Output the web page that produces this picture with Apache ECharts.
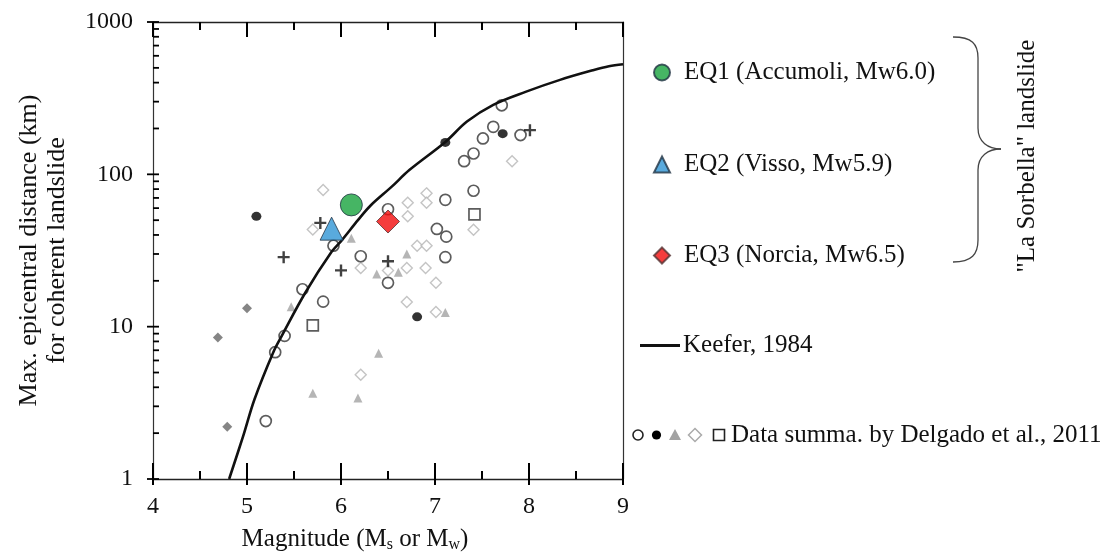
<!DOCTYPE html>
<html>
<head>
<meta charset="utf-8">
<script src="https://cdn.jsdelivr.net/npm/echarts@6/dist/echarts.min.js"></script>
<style>
  html, body { margin: 0; padding: 0; background: #fff; }
  #chart { width: 1107px; height: 554px; }
</style>
</head>
<body>
<div id="chart"></div>
<script>
// Magnitude vs. maximum epicentral distance for coherent landslides
const FONT = '"Liberation Serif", "Times New Roman", serif';

// axis ranges and frame ticks
const magRange = [4, 9];
const distRange = [1, 1000];
const magTicks = [4, 4.5, 5, 5.5, 6, 6.5, 7, 7.5, 8, 8.5, 9];
const distTicks = [1, 2, 3, 4, 5, 6, 7, 8, 9, 10, 20, 30, 40, 50, 60, 70, 80, 90,
                   100, 200, 300, 400, 500, 600, 700, 800, 900, 1000];

// Keefer (1984) upper-bound curve: [magnitude, distance km]
const keeferCurve = [
  [4.81, 1.0], [4.96, 1.92], [5.08, 3.34], [5.28, 6.8], [5.37, 8.7],
  [5.62, 16.7], [5.90, 31], [6.01, 37], [6.18, 50], [6.31, 62],
  [6.54, 83], [6.73, 107], [7.11, 163], [7.34, 222], [7.62, 286],
  [7.97, 349], [8.33, 417], [8.69, 484], [8.85, 512], [9.0, 528]
];

// "La Sorbella" landslide events
const eq1 = [[6.11, 63]];
const eq2 = [[5.90, 44]];
const eq3 = [[6.50, 49]];

// Data summarised by Delgado et al., 2011
const openCircles = [
  [5.20, 2.4], [5.30, 6.8], [5.40, 8.7], [5.59, 17.6], [5.81, 14.6],
  [5.92, 34], [6.21, 29], [6.50, 19.4], [6.50, 59], [7.02, 43.8],
  [7.12, 39], [7.11, 28.6], [7.11, 68], [7.31, 122], [7.41, 137],
  [7.41, 78], [7.51, 172], [7.62, 205], [7.71, 284], [7.91, 181]
];
const blackDots = [[5.10, 53], [6.81, 11.6], [7.11, 162], [7.72, 185]];
const greyTriangles = [
  [5.47, 13.5], [5.70, 3.66], [6.11, 38], [6.18, 3.4], [6.38, 22.2],
  [6.40, 6.7], [6.61, 22.8], [6.70, 30], [7.11, 12.4]
];
const openDiamonds = [
  [5.70, 43.5], [5.81, 79], [6.21, 24.3], [6.21, 4.83], [6.50, 23.4],
  [6.71, 65], [6.71, 53], [6.70, 24.3], [6.70, 14.5], [6.81, 34],
  [6.91, 75], [6.91, 65], [6.91, 34], [6.90, 24.3], [7.01, 19.4],
  [7.01, 12.5], [7.41, 43.3], [7.82, 122]
];
const openSquares = [[5.70, 10.2], [7.42, 54.6]];
const crosses = [[5.39, 28.6], [5.78, 48], [6.00, 23.4], [6.50, 26.9], [8.01, 195]];
const darkDiamonds = [[4.69, 8.5], [4.79, 2.2], [5.00, 13.2]];

const CROSS = 'path://M0,4 L4,4 L4,0 L6,0 L6,4 L10,4 L10,6 L6,6 L6,10 L4,10 L4,6 L0,6 Z';
const INK = '#111';

const chart = echarts.init(document.getElementById('chart'));

function isWhole(v) { return Math.abs(v - Math.round(v)) < 1e-6; }

// bottom edge: whole magnitudes cross the axis, half steps point inward
function renderBottomTick(params, api) {
  const m = api.value(0);
  const p = api.coord([m, distRange[0]]);
  const major = isWhole(m);
  return {
    type: 'line',
    shape: { x1: p[0], y1: p[1] + (major ? 6 : 0), x2: p[0], y2: p[1] - (major ? 16 : 8) },
    style: { stroke: '#000', lineWidth: 2 }
  };
}

// top edge: ticks point down into the frame
function renderTopTick(params, api) {
  const m = api.value(0);
  const p = api.coord([m, distRange[1]]);
  return {
    type: 'line',
    shape: { x1: p[0], y1: p[1], x2: p[0], y2: p[1] + (isWhole(m) ? 15 : 8) },
    style: { stroke: '#000', lineWidth: 2 }
  };
}

// left edge: decades cross the axis, 2..9 point inward
function renderLeftTick(params, api) {
  const d = api.value(1);
  const p = api.coord([magRange[0], d]);
  const major = isWhole(Math.log10(d));
  return {
    type: 'line',
    shape: { x1: p[0] - (major ? 6 : 0), y1: p[1], x2: p[0] + 6, y2: p[1] },
    style: { stroke: '#000', lineWidth: 1.8 }
  };
}

const legendBase = {
  orient: 'vertical', selectedMode: false, itemWidth: 16, itemHeight: 16,
  textStyle: { fontFamily: FONT, fontSize: 25, color: INK, padding: [0, 0, 0, 9] }
};

chart.setOption({
  animation: false,
  backgroundColor: '#fff',
  grid: { left: 153, right: 484, top: 22, bottom: 75, containLabel: false },
  xAxis: [
    {
      type: 'value', position: 'bottom', min: magRange[0], max: magRange[1], interval: 1,
      axisLine: { show: true, onZero: false, lineStyle: { color: '#222', width: 1.3 } },
      axisTick: { show: false },
      axisLabel: { show: true, margin: 16, fontFamily: FONT, fontSize: 24, color: INK },
      splitLine: { show: false }
    },
    {
      type: 'value', position: 'top', min: magRange[0], max: magRange[1], interval: 1,
      axisLine: { show: true, onZero: false, lineStyle: { color: '#222', width: 1.3 } },
      axisTick: { show: false },
      axisLabel: { show: false },
      splitLine: { show: false }
    }
  ],
  yAxis: [
    {
      type: 'log', logBase: 10, position: 'left', min: distRange[0], max: distRange[1],
      axisLine: { show: true, onZero: false, lineStyle: { color: '#333', width: 1.2 } },
      axisTick: { show: false },
      axisLabel: { margin: 20, fontFamily: FONT, fontSize: 24, color: INK,
                   formatter: v => String(Math.round(v)) },
      splitLine: { show: false },
      name: 'Max. epicentral distance (km)\nfor coherent landslide',
      nameLocation: 'middle', nameGap: 82, nameRotate: 90,
      nameTextStyle: { fontFamily: FONT, fontSize: 26, color: INK, lineHeight: 28 }
    },
    {
      type: 'value', position: 'right', min: 0, max: 3,
      axisLine: { show: true, onZero: false, lineStyle: { color: '#333', width: 1.2 } },
      axisTick: { show: false },
      axisLabel: { show: false },
      splitLine: { show: false }
    }
  ],
  legend: [
    Object.assign({ data: ['EQ1 (Accumoli, Mw6.0)'], left: 648, top: 55 }, legendBase),
    Object.assign({ data: ['EQ2 (Visso, Mw5.9)'], left: 648, top: 147 }, legendBase),
    Object.assign({ data: ['EQ3 (Norcia, Mw6.5)'], left: 648, top: 238 }, legendBase),
    Object.assign({}, legendBase, {
      data: ['Keefer, 1984'], left: 635, top: 328, icon: 'rect', itemWidth: 40, itemHeight: 3,
      textStyle: { fontFamily: FONT, fontSize: 25, color: INK, padding: [0, 0, 0, -2] }
    })
  ],
  series: [
    {
      name: 'bottom ticks', type: 'custom', renderItem: renderBottomTick, clip: false, silent: true,
      data: magTicks.map(m => [m, distRange[0]]), z: 6
    },
    {
      name: 'top ticks', type: 'custom', renderItem: renderTopTick, clip: false, silent: true,
      data: magTicks.map(m => [m, distRange[1]]), z: 6
    },
    {
      name: 'left ticks', type: 'custom', renderItem: renderLeftTick, clip: false, silent: true,
      data: distTicks.map(d => [magRange[0], d]), z: 6
    },
    {
      name: 'Delgado open diamond', type: 'scatter', data: openDiamonds, symbol: 'diamond',
      symbolSize: 11, itemStyle: { color: '#fff', borderColor: '#b5b5b5', borderWidth: 1.4 }, z: 2
    },
    {
      name: 'Delgado triangle', type: 'scatter', data: greyTriangles, symbol: 'triangle',
      symbolSize: 9, itemStyle: { color: '#a3a3a3' }, z: 2
    },
    {
      name: 'Delgado dark diamond', type: 'scatter', data: darkDiamonds, symbol: 'diamond',
      symbolSize: 10, itemStyle: { color: '#666' }, z: 2
    },
    {
      name: 'Delgado open circle', type: 'scatter', data: openCircles, symbol: 'circle',
      symbolSize: 11, itemStyle: { color: '#fff', borderColor: '#333', borderWidth: 1.7 }, z: 3
    },
    {
      name: 'Delgado open square', type: 'scatter', data: openSquares, symbol: 'rect',
      symbolSize: 11, itemStyle: { color: '#fff', borderColor: '#333', borderWidth: 1.7 }, z: 3
    },
    {
      name: 'Delgado dot', type: 'scatter', data: blackDots, symbol: 'circle',
      symbolSize: [10, 9], itemStyle: { color: '#000' }, z: 3
    },
    {
      name: 'Delgado cross', type: 'scatter', data: crosses, symbol: CROSS,
      symbolSize: 12, itemStyle: { color: INK }, z: 3
    },
    {
      name: 'Keefer, 1984', type: 'line', data: keeferCurve, smooth: 0.35,
      showSymbol: false, symbol: 'none',
      lineStyle: { color: INK, width: 2.6 }, itemStyle: { color: INK }, z: 4
    },
    {
      name: 'EQ1 (Accumoli, Mw6.0)', type: 'scatter', data: eq1, symbol: 'circle',
      symbolSize: 22, itemStyle: { color: '#18a33d', borderColor: '#234', borderWidth: 1 }, z: 5
    },
    {
      name: 'EQ2 (Visso, Mw5.9)', type: 'scatter', data: eq2, symbol: 'triangle',
      symbolSize: 23, itemStyle: { color: '#2f95d4', borderColor: '#234', borderWidth: 1 }, z: 5
    },
    {
      name: 'EQ3 (Norcia, Mw6.5)', type: 'scatter', data: eq3, symbol: 'diamond',
      symbolSize: 23, itemStyle: { color: '#f20d0d', borderColor: '#533', borderWidth: 1 }, z: 5
    }
  ]
});

// annotations outside the plot: symbol key, brace and titles
chart.setOption({
  graphic: [
    { type: 'circle', shape: { cx: 638, cy: 435, r: 5 }, style: { fill: '#fff', stroke: '#222', lineWidth: 1.6 } },
    { type: 'circle', shape: { cx: 656.5, cy: 435, r: 4.6 }, style: { fill: '#000' } },
    { type: 'polygon', shape: { points: [[675, 429], [681, 440], [669, 440]] }, style: { fill: '#a3a3a3' } },
    { type: 'polygon', shape: { points: [[695, 428.5], [701.5, 435], [695, 441.5], [688.5, 435]] },
      style: { fill: '#fff', stroke: '#aaa', lineWidth: 1.5 } },
    { type: 'rect', shape: { x: 713.5, y: 429.5, width: 11, height: 11 },
      style: { fill: '#fff', stroke: '#222', lineWidth: 1.6 } },
    { type: 'text', x: 731, y: 435,
      style: { text: 'Data summa. by Delgado et al., 2011', font: '25px ' + FONT, fill: INK,
               align: 'left', verticalAlign: 'middle' } },
    { type: 'bezierCurve', shape: { x1: 953, y1: 37, x2: 978, y2: 58, cpx1: 972, cpy1: 37, cpx2: 978, cpy2: 44 },
      style: { stroke: '#444', lineWidth: 1.3, fill: 'none' } },
    { type: 'line', shape: { x1: 978, y1: 58, x2: 978, y2: 128 }, style: { stroke: '#444', lineWidth: 1.3 } },
    { type: 'bezierCurve', shape: { x1: 978, y1: 128, x2: 1001, y2: 149, cpx1: 978, cpy1: 142, cpx2: 988, cpy2: 149 },
      style: { stroke: '#444', lineWidth: 1.3, fill: 'none' } },
    { type: 'bezierCurve', shape: { x1: 1001, y1: 149, x2: 978, y2: 170, cpx1: 988, cpy1: 149, cpx2: 978, cpy2: 156 },
      style: { stroke: '#444', lineWidth: 1.3, fill: 'none' } },
    { type: 'line', shape: { x1: 978, y1: 170, x2: 978, y2: 240 }, style: { stroke: '#444', lineWidth: 1.3 } },
    { type: 'bezierCurve', shape: { x1: 978, y1: 240, x2: 953, y2: 262, cpx1: 978, cpy1: 254, cpx2: 972, cpy2: 262 },
      style: { stroke: '#444', lineWidth: 1.3, fill: 'none' } },
    { type: 'text', x: 1027, y: 156, rotation: Math.PI / 2,
      style: { text: '"La Sorbella" landslide', font: '25px ' + FONT, fill: INK,
               align: 'center', verticalAlign: 'middle' } },
    { type: 'text', x: 355, y: 539,
      style: {
        text: 'Magnitude (M{sub|s} or M{sub|w})', font: '25px ' + FONT, fill: INK,
        align: 'center', verticalAlign: 'middle',
        rich: { sub: { fontFamily: FONT, fontSize: 16, fill: INK, padding: [11, 0, 0, 0] } }
      } }
  ]
});
</script>
</body>
</html>
